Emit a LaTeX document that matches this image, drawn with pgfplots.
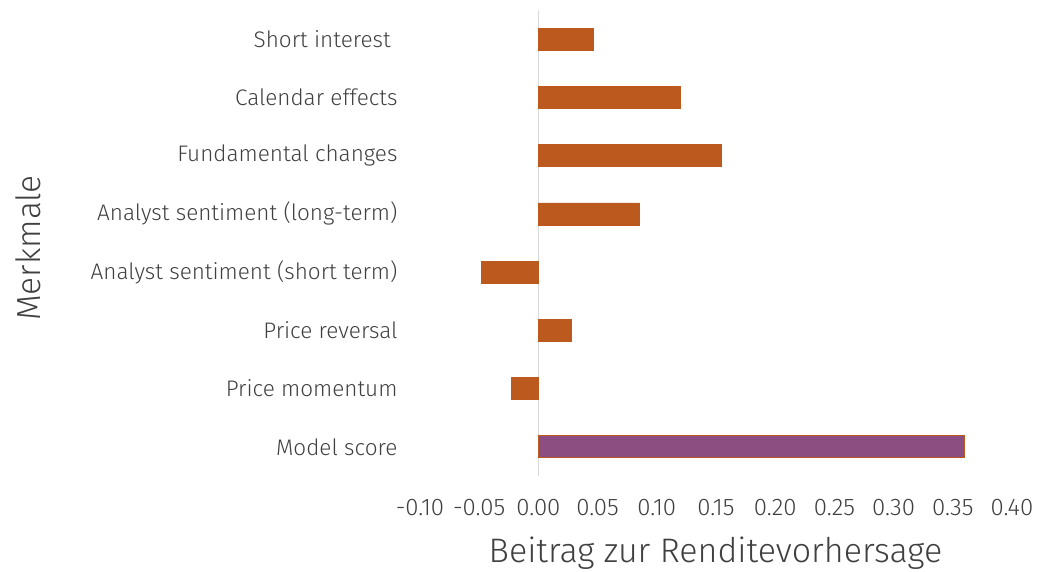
\documentclass[border=0pt]{standalone}
\usepackage{pgfplots}
\pgfplotsset{compat=1.18}
\usepackage{fontspec}
\setmainfont{Fira Sans}[UprightFont=* Light]
\definecolor{barorange}{RGB}{187,89,30}
\definecolor{barpurple}{RGB}{140,78,128}
\definecolor{txt}{RGB}{64,64,64}
\begin{document}
\begin{tikzpicture}
\path[use as bounding box] (-420pt,-95pt) rectangle (617pt,476pt);
\begin{axis}[
  at={(0,0)}, anchor=south west,
  scale only axis, width=592pt, height=466pt,
  xbar, bar width=22pt, bar shift=0pt,
  xmin=-0.10, xmax=0.40, ymin=-0.5, ymax=7.5,
  xtick={-0.10,-0.05,0,0.05,0.10,0.15,0.20,0.25,0.30,0.35,0.40},
  ytick={0,1,2,3,4,5,6,7},
  yticklabels={Model score, Price momentum, Price reversal, Analyst sentiment (short term), Analyst sentiment (long-term), Fundamental changes, Calendar effects, Short interest\kern0.3em},
  axis line style={draw=none}, major tick length=0pt,
  /pgf/number format/.cd, fixed, fixed zerofill, precision=2, assume math mode=true,
  /pgfplots/.cd,
  xticklabel style={font=\fontsize{24}{28}\selectfont, text=txt, yshift=-20pt},
  yticklabel style={font=\fontsize{22.5}{27}\selectfont, text=txt, anchor=east, xshift=-19pt},
  clip=false,
]
\draw[color=black!15, line width=1.2pt] (axis cs:0,-0.5) -- (axis cs:0,7.5);
\addplot[fill=barorange, draw=barorange, bar shift=0pt] coordinates {
 (0.046,7) (0.120,6) (0.1545,5) (0.085,4) (-0.0484,3) (0.028,2) (-0.023,1)};
\addplot[fill=barpurple, draw=barorange, line width=1pt, bar shift=0pt] coordinates {(0.360,0)};
\end{axis}
\node[rotate=90, text=txt, font=\fontsize{33.4}{40}\selectfont] at (-392pt,228pt) {Merkmale};
\node[text=txt, font=\fontsize{34}{41}\selectfont] at (295.5pt,-77pt) {Beitrag zur Renditevorhersage};
\end{tikzpicture}
\end{document}
